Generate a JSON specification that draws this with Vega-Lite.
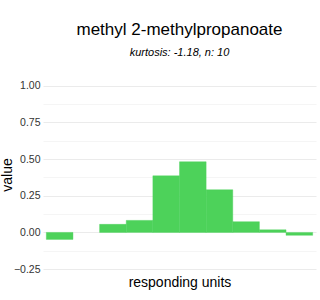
{
  "$schema": "https://vega.github.io/schema/vega-lite/v6.json",
  "autosize": "none",
  "width": 273,
  "height": 195,
  "padding": {"left": 43, "top": 77, "right": 4, "bottom": 28},
  "background": "white",
  "title": {
    "text": "methyl 2-methylpropanoate",
    "subtitle": "kurtosis: -1.18, n: 10",
    "font": "Liberation Sans",
    "fontSize": 17,
    "fontWeight": "normal",
    "color": "#000000",
    "subtitleFont": "Liberation Sans",
    "subtitleFontSize": 11,
    "subtitleFontStyle": "italic",
    "subtitleColor": "#000000",
    "subtitlePadding": 8,
    "anchor": "middle",
    "offset": 18
  },
  "data": {
    "values": [
      {"unit": 1, "value": -0.048},
      {"unit": 2, "value": null},
      {"unit": 3, "value": 0.055},
      {"unit": 4, "value": 0.082},
      {"unit": 5, "value": 0.386},
      {"unit": 6, "value": 0.482},
      {"unit": 7, "value": 0.291},
      {"unit": 8, "value": 0.073},
      {"unit": 9, "value": 0.018},
      {"unit": 10, "value": -0.02}
    ]
  },
  "mark": {"type": "bar", "color": "#4dd25a", "stroke": "#4dd25a", "strokeWidth": 0.4},
  "encoding": {
    "x": {
      "field": "unit",
      "type": "ordinal",
      "scale": {"domain": [1, 2, 3, 4, 5, 6, 7, 8, 9, 10], "paddingInner": 0, "paddingOuter": 0.125},
      "axis": {
        "title": "responding units",
        "labels": false,
        "ticks": false,
        "domain": false,
        "grid": false,
        "titleFont": "Liberation Sans",
        "titleFontSize": 14,
        "titleFontWeight": "normal",
        "titleColor": "#000000",
        "titlePadding": 3
      }
    },
    "y": {
      "field": "value",
      "type": "quantitative",
      "scale": {"domain": [-0.27, 1.06], "nice": false, "zero": false},
      "axis": {
        "title": "value",
        "values": [-0.25, -0.125, 0, 0.125, 0.25, 0.375, 0.5, 0.625, 0.75, 0.875, 1.0],
        "labelExpr": "abs(datum.value * 4 - round(datum.value * 4)) < 0.001 ? format(datum.value, '.2f') : ''",
        "gridColor": {
          "condition": {"test": "abs(datum.value * 4 - round(datum.value * 4)) < 0.001", "value": "#ebebeb"},
          "value": "#f5f5f5"
        },
        "grid": true,
        "ticks": false,
        "domain": false,
        "labelFont": "Liberation Sans",
        "labelFontSize": 10.5,
        "labelColor": "#333333",
        "labelPadding": 3,
        "titleFont": "Liberation Sans",
        "titleFontSize": 14,
        "titleFontWeight": "normal",
        "titleColor": "#000000",
        "titleX": -29,
        "titleBaseline": "bottom"
      }
    }
  },
  "config": {"view": {"stroke": null}}
}
